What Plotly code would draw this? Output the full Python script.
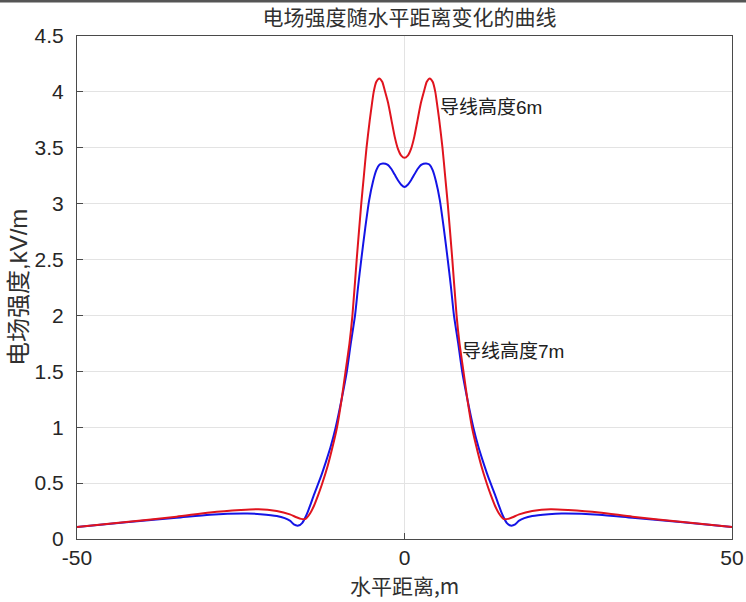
import plotly.graph_objects as go

# Distance (m) and field strength (kV/m) (right half; the chart is symmetric)
x_6m_pos = [0, 0.5, 1.0, 1.5, 2.0, 2.5, 3.0, 3.4, 3.85, 4.3, 4.7, 5.0, 5.3, 5.8, 6.2, 6.6, 7.3, 7.95, 8.4, 9.0,
            9.6, 10.3, 11.0, 11.7, 12.6, 13.2, 13.8, 14.4, 15.1, 15.8, 16.5, 17.5, 19.5, 22.3, 25.0, 29.7,
            34.8, 42.5, 50]
e_6m_pos = [3.41, 3.43, 3.49, 3.60, 3.75, 3.90, 4.01, 4.09, 4.12, 4.09, 4.00, 3.88, 3.75, 3.50, 3.25, 3.00, 2.50,
            2.00, 1.75, 1.50, 1.25, 1.00, 0.82, 0.66, 0.49, 0.39, 0.30, 0.23, 0.180, 0.180, 0.195, 0.220, 0.250,
            0.267, 0.260, 0.238, 0.200, 0.152, 0.107]

x_7m_pos = [0, 0.5, 1.0, 1.5, 2.0, 2.6, 3.3, 3.8, 4.3, 4.8, 5.4, 6.0, 6.6, 7.1, 7.55, 8.2, 8.8, 9.6, 10.5, 11.3,
            12.0, 12.6, 13.2, 13.8, 14.4, 15.0, 15.6, 16.2, 16.9, 17.5, 19.5, 22.0, 24.0, 29.7, 34.8, 42.5, 50]
e_7m_pos = [3.15, 3.17, 3.21, 3.26, 3.31, 3.35, 3.36, 3.35, 3.30, 3.20, 3.03, 2.78, 2.50, 2.25, 2.00, 1.75, 1.50,
            1.25, 1.00, 0.82, 0.69, 0.585, 0.49, 0.40, 0.30, 0.21, 0.145, 0.120, 0.130, 0.165, 0.205, 0.222,
            0.228, 0.218, 0.190, 0.150, 0.107]

# full curves (left half is the mirror image of the right half)
x_6m = [-v for v in x_6m_pos[:0:-1]] + x_6m_pos
e_6m = e_6m_pos[:0:-1] + e_6m_pos
x_7m = [-v for v in x_7m_pos[:0:-1]] + x_7m_pos
e_7m = e_7m_pos[:0:-1] + e_7m_pos

x_ticks = [-50, 0, 50]
y_ticks = [0, 0.5, 1, 1.5, 2, 2.5, 3, 3.5, 4, 4.5]

title_text = "电场强度随水平距离变化的曲线"
x_title = "水平距离,m"
y_title = "电场强度,kV/m"
label_6m = "导线高度6m"
label_7m = "导线高度7m"
label_6m_pos = (5.1, 3.86)
label_7m_pos = (8.5, 1.675)

W, H = 746, 602
ML, MR, MT, MB = 77, 14, 36, 63
PW, PH = W - ML - MR, H - MT - MB

cjk = "Noto Sans CJK SC"
num = "Liberation Sans"
mixed = "Liberation Sans, Noto Sans CJK SC"

fig = go.Figure()
fig.add_trace(go.Scatter(x=x_7m, y=e_7m, mode="lines", line=dict(color="#1414e6", width=2, shape="spline", smoothing=0.6),
                         showlegend=False, hoverinfo="skip"))
fig.add_trace(go.Scatter(x=x_6m, y=e_6m, mode="lines", line=dict(color="#e0141e", width=2, shape="spline", smoothing=0.6),
                         showlegend=False, hoverinfo="skip"))

axis_common = dict(showline=True, linecolor="#4a4a4a", linewidth=1, mirror=True, automargin=False,
                   ticks="inside", ticklen=6, tickcolor="#4a4a4a",
                   showgrid=True, gridcolor="#e3e3e3", gridwidth=1, zeroline=False,
                   tickfont=dict(family=num, size=21, color="#262626"))

fig.update_xaxes(range=[-50, 50], tickvals=x_ticks, ticktext=[str(v) for v in x_ticks], ticklabelstandoff=0, **axis_common)
fig.update_yaxes(range=[0, 4.5], tickvals=y_ticks, ticktext=[f"{v:g}" for v in y_ticks], ticklabelstandoff=8, **axis_common)

fig.update_layout(
    width=W, height=H, autosize=False,
    margin=dict(l=ML, r=MR, t=MT, b=MB, pad=0),
    paper_bgcolor="white", plot_bgcolor="white",
    title=dict(text=title_text, x=0.5 + 5 / PW, xref="paper", xanchor="center", y=1 - 18 / H, yanchor="middle",
               font=dict(family=cjk, size=21, color="#303030")),
    annotations=[
        dict(text=x_title, xref="paper", yref="paper", x=0.5, y=-(585 - (H - MB)) / PH, xanchor="center", yanchor="middle",
             showarrow=False, font=dict(family=cjk, size=21, color="#303030")),
        dict(text=y_title, xref="paper", yref="paper", x=(18 - ML) / PW, y=(539 - 288) / PH, xanchor="center", yanchor="middle",
             textangle=-90, showarrow=False, font=dict(family=mixed, size=24, color="#303030")),
        dict(text=label_6m, x=label_6m_pos[0], y=label_6m_pos[1], xref="x", yref="y", xanchor="left", yanchor="middle",
             showarrow=False, font=dict(family=mixed, size=19, color="#202020")),
        dict(text=label_7m, x=label_7m_pos[0], y=label_7m_pos[1], xref="x", yref="y", xanchor="left", yanchor="middle",
             showarrow=False, font=dict(family=mixed, size=19, color="#202020")),
    ],
    shapes=[dict(type="rect", xref="paper", yref="paper", x0=-ML / PW, x1=1 + MR / PW,
                 y0=1 + (MT - 2.5) / PH, y1=1 + MT / PH, fillcolor="#555555", line=dict(width=0), layer="above")],
)

fig.write_html("out.html", config={"displayModeBar": False},
               post_script="document.body.style.margin='0px';document.body.style.overflow='hidden';")
